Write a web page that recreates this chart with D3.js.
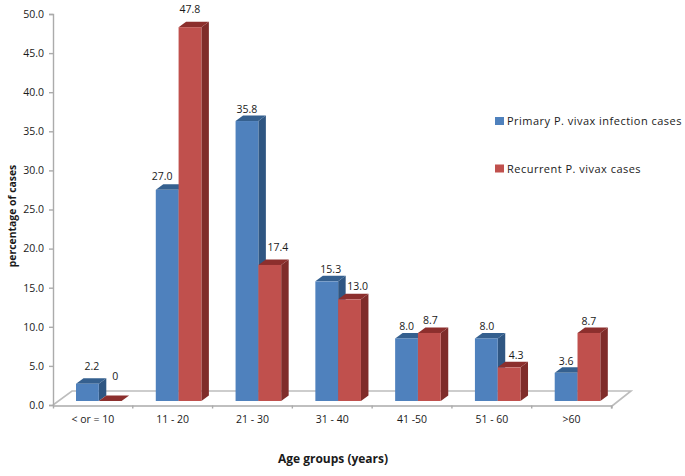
<!DOCTYPE html>
<html><head><meta charset="utf-8">
<script src="https://cdn.jsdelivr.net/npm/d3@7"></script>
<style>html,body{margin:0;background:#fff}svg{display:block}text{font-family:"Open Sans",sans-serif;fill:#1a1a1a}</style>
</head><body><svg id="c" width="685" height="476"></svg>
<script>
const categories = ["< or = 10","11 - 20","21 - 30","31 - 40","41 -50","51 - 60",">60"];
const primaryValues = [2.2,27.0,35.8,15.3,8.0,8.0,3.6];
const recurrentValues = [0,47.8,17.4,13.0,8.7,4.3,8.7];
const primaryLabels = ["2.2","27.0","35.8","15.3","8.0","8.0","3.6"];
const recurrentLabels = ["0","47.8","17.4","13.0","8.7","4.3","8.7"];
const yTicks = [0,5,10,15,20,25,30,35,40,45,50];
const seriesNames = ["Primary P. vivax infection cases","Recurrent P. vivax cases"];
// hand-placed data label nudges (layout only)
const primaryNudgeX = [4.6,-5,0,4,0,0.5,0];
const primaryNudgeUp = [18,14,12,12,12,12.5,12];
const recurrentNudgeX = [5,0,8,8,1,7,0];
const recurrentNudgeUp = [25,18,18,13,13,12,12];

const svg = d3.select("#c");
const y = d3.scaleLinear().domain([0,50]).range([405,14]);
const x = d3.scaleBand().domain(categories).range([53,611.5]);
const bw = 22.8, baseShift = -4, dep = 7.5, rise = 5.5;
const axisCol = "#ababab";

// floor
svg.append("path").attr("d",`M53,405 L72,391 L631,391 L612,406`).attr("fill","none").attr("stroke","#bdbdbd").attr("stroke-width",1.6);

const series = [
 {vals:primaryValues,labels:primaryLabels,nx:primaryNudgeX,nu:primaryNudgeUp,front:"#4f81bd",top:"#35608f",side:"#2f5682",off:0},
 {vals:recurrentValues,labels:recurrentLabels,nx:recurrentNudgeX,nu:recurrentNudgeUp,front:"#c0504d",top:"#8c2f2d",side:"#7f2c2a",off:1}
];
const barX = (c,s)=>x(c)+23+s*bw;
const vh = v=>y(0)-y(v);
series.forEach(s=>{
  const g = svg.append("g");
  categories.forEach((c,i)=>{
    const v=s.vals[i], X=barX(c,s.off), B=y(0)+baseShift, T=B-vh(v);
    const bar=g.append("g");
    bar.append("path").attr("d",`M${X+bw},${T} L${X+bw+dep},${T-rise} L${X+bw+dep},${B-rise} L${X+bw},${B} Z`).attr("fill",s.side);
    bar.append("path").attr("d",`M${X},${T} L${X+dep},${T-rise} L${X+bw+dep},${T-rise} L${X+bw},${T} Z`).attr("fill",s.top);
    bar.append("rect").attr("x",X).attr("y",T).attr("width",bw).attr("height",B-T).attr("fill",s.front);
  });
});
series.forEach(s=>{
  svg.append("g").selectAll("text").data(categories).join("text")
   .attr("x",(c,i)=>barX(c,s.off)+bw/2+s.nx[i])
   .attr("y",(c,i)=>y(0)+baseShift-vh(s.vals[i])-s.nu[i])
   .attr("dy","0.36em")
   .attr("text-anchor","middle").attr("font-size",10.5)
   .text((c,i)=>s.labels[i]);
});

// y axis
const ya = svg.append("g").attr("transform","translate(53,0)").call(d3.axisLeft(y).tickValues(yTicks).tickFormat(d3.format(".1f")).tickSize(4).tickPadding(5));
ya.selectAll("path,line").attr("stroke",axisCol).attr("stroke-width",1.4);
ya.selectAll("text").attr("font-size",10.5).attr("fill","#1a1a1a").attr("font-family",'"Open Sans",sans-serif');
// x axis
const xa = svg.append("g").attr("transform","translate(0,405.5)").call(d3.axisBottom(x).tickSize(3).tickPadding(7));
xa.selectAll("path,line").attr("stroke",axisCol).attr("stroke-width",1.4);
xa.selectAll(".tick line").attr("transform",`translate(${x.bandwidth()/2},0)`);
xa.selectAll("text").attr("font-size",10.5).attr("fill","#1a1a1a").attr("font-family",'"Open Sans",sans-serif');

svg.append("text").attr("transform","translate(15.5,216) rotate(-90)").attr("text-anchor","middle").attr("font-size",10.4).attr("font-weight",700).text("percentage of cases");
svg.append("text").attr("x",333).attr("y",463).attr("text-anchor","middle").attr("font-size",12).attr("font-weight",700).text("Age groups (years)");

// legend
[[121,"#4f81bd"],[168.5,"#c0504d"]].forEach((d,i)=>{
  svg.append("rect").attr("x",495).attr("y",d[0]-4).attr("width",9).attr("height",8).attr("fill",d[1]);
  svg.append("text").attr("x",507).attr("y",d[0]+4).attr("font-size",11).attr("letter-spacing",0.48).text(seriesNames[i]);
});
</script></body></html>
